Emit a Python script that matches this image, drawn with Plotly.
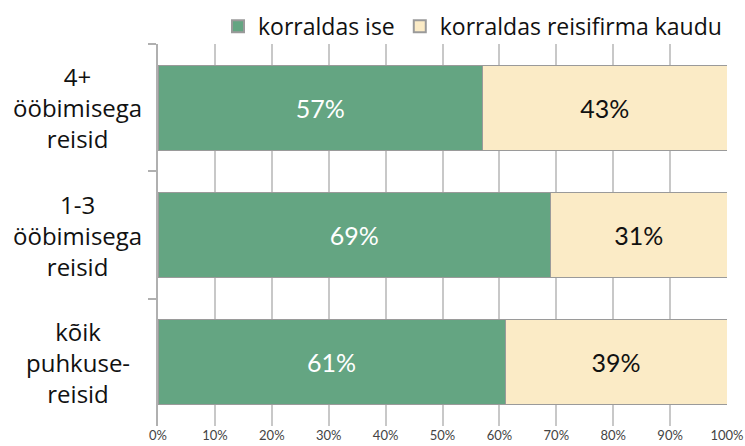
import plotly.graph_objects as go

categories = ["4+ ööbimisega reisid", "1-3 ööbimisega reisid", "kõik puhkusereisid"]
category_labels = ["4+<br>ööbimisega<br>reisid", "1-3<br>ööbimisega<br>reisid", "kõik<br>puhkuse-<br>reisid"]
ise = [57, 69, 61]
firma = [43, 31, 39]
x_ticks = [0, 10, 20, 30, 40, 50, 60, 70, 80, 90, 100]
x_tick_labels = [f"{v}%" for v in x_ticks]

fig = go.Figure()
fig.add_trace(go.Bar(
    y=categories, x=ise, orientation="h", name="korraldas ise",
    marker=dict(color="#64A582", line=dict(color="#9a9a9a", width=1)),
    text=[f"{v}%" for v in ise], textposition="inside", insidetextanchor="middle",
    textfont=dict(color="white", size=25, family="Lato"),
    width=0.67,
))
fig.add_trace(go.Bar(
    y=categories, x=firma, orientation="h", name="korraldas reisifirma kaudu",
    marker=dict(color="#FBEBC6", line=dict(color="#9a9a9a", width=1)),
    text=[f"{v}%" for v in firma], textposition="inside", insidetextanchor="middle",
    textfont=dict(color="#111111", size=25, family="Lato"),
    width=0.67,
))

for cat, lab in zip(categories, category_labels):
    fig.add_annotation(
        x=-0.1406, xref="paper", y=cat, yref="y", text=lab, showarrow=False,
        align="center", xanchor="center", yanchor="middle",
        font=dict(size=24, color="#111111", family="Open Sans"),
    )

fig.update_layout(
    barmode="stack",
    width=745, height=446,
    margin=dict(l=158, r=18, t=44, b=20, autoexpand=False),
    paper_bgcolor="white", plot_bgcolor="white",
    showlegend=True,
    legend=dict(orientation="h", x=1.0, xanchor="right", y=0.99, yanchor="bottom",
                font=dict(size=23, color="#111111", family="Open Sans"),
                itemsizing="constant", traceorder="normal", bgcolor="rgba(0,0,0,0)",
                tracegroupgap=0, itemwidth=30),
    font=dict(family="Open Sans"),
)
fig.update_xaxes(
    range=[0, 100], tickvals=x_ticks, ticktext=x_tick_labels, automargin=False,
    showgrid=True, gridcolor="#c8c8c8", gridwidth=1.5, zeroline=False,
    showline=False, ticks="", tickfont=dict(size=13, color="#444444", family="Lato"),
)
fig.update_yaxes(
    autorange="reversed", showticklabels=False, automargin=False,
    showline=True, linecolor="#b0b0b0", linewidth=1.5,
    ticks="outside", tickson="boundaries", ticklen=8, tickcolor="#b0b0b0", tickwidth=1.5,
    showgrid=False,
)

fig.write_html("out.html", config={"displayModeBar": False},
               post_script="document.body.style.margin='0';document.body.style.overflow='hidden';")
